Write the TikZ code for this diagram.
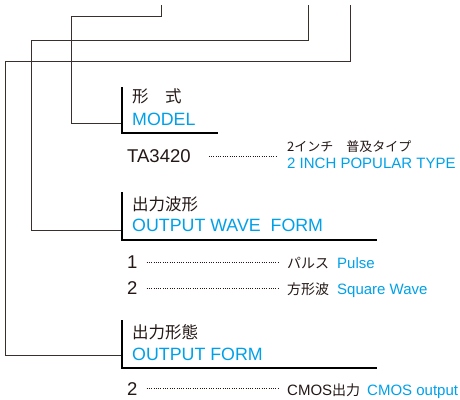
\documentclass[tikz,border=0pt]{standalone}
\usepackage{fontspec}
\setmainfont{Liberation Sans}
\newfontfamily\jpfont{Noto Sans CJK JP}
\usepackage{tikz}
\definecolor{specblue}{RGB}{0,160,233}
\definecolor{ink}{RGB}{35,24,21}
\newcommand\headsize{\fontsize{17.8}{20}\selectfont}
\newcommand\headjp{\jpfont\fontsize{16.5}{20}\selectfont}
\newcommand\numsize{\fontsize{18.5}{20}\selectfont}
\newcommand\itemsize{\fontsize{15}{18}\selectfont}
\newcommand\itemjp{\jpfont\fontsize{14}{18}\selectfont}
\newcommand\smalljp{\jpfont\fontsize{13}{16}\selectfont}

\begin{document}
\begin{tikzpicture}[x=1pt,y=-1pt,
    txt/.style={anchor=base west,inner sep=0pt,text=ink},
    entxt/.style={txt,text=specblue},
    bracket/.style={draw=black,line width=2.2pt},
    link/.style={draw=ink!90,line width=0.9pt},
    leader/.style={draw=ink,line width=0.9pt,dash pattern=on 0.9pt off 1.4pt}]
        \useasboundingbox (0,0) rectangle (460,399);
        % model
        \node[txt,font=\headjp] (modeljp) at (132,102.5) {形　式};
        \node[entxt,font=\headsize] (model) at (132,125) {MODEL};
        \coordinate (modeltop) at (122,87);
        \coordinate (modelfoot) at (122,133);
        \coordinate (modelend) at (218,133);
        \draw[bracket] (modeltop) -- (modelfoot) -- (modelend);
        \node[txt,font=\numsize] (ta) at (127,162.5) {TA3420};
        \node[txt,font=\smalljp] (tajp) at (287,151) {2インチ　普及タイプ};
        \node[entxt,font=\itemsize] (taen) at (287,168) {2 INCH POPULAR TYPE};
        \draw[leader] ([xshift=18pt]ta.east) -- ([xshift=-10pt]ta.east -| tajp.west);
        % output wave form
        \node[txt,font=\headjp] (wavejp) at (132,210) {出力波形};
        \node[entxt,font=\headsize] (wave) at (132,231.5) {OUTPUT WAVE\ \ FORM};
        \coordinate (wavetop) at (122,192);
        \coordinate (wavefoot) at (122,240);
        \coordinate (waveend) at (377,240);
        \draw[bracket] (wavetop) -- (wavefoot) -- (waveend);
        \node[txt,font=\numsize] (one) at (127,268.5) {1};
        \node[txt,font=\itemjp] (pulsejp) at (287,268) {パルス};
        \node[entxt,font=\itemsize] (pulse) at (337,268) {Pulse};
        \draw[leader] ([xshift=9pt]one.east) -- ([xshift=-7pt]one.east -| pulsejp.west);
        \node[txt,font=\numsize] (two) at (127,294.5) {2};
        \node[txt,font=\itemjp] (squarejp) at (287,294) {方形波};
        \node[entxt,font=\itemsize] (square) at (337,294) {Square Wave};
        \draw[leader] ([xshift=9pt]two.east) -- ([xshift=-7pt]two.east -| squarejp.west);
        % output form
        \node[txt,font=\headjp] (formjp) at (132,338.5) {出力形態};
        \node[entxt,font=\headsize] (form) at (132,360) {OUTPUT FORM};
        \coordinate (formtop) at (122,320);
        \coordinate (formfoot) at (122,368);
        \coordinate (formend) at (377,368);
        \draw[bracket] (formtop) -- (formfoot) -- (formend);
        \node[txt,font=\numsize] (cmosno) at (127,395) {2};
        \node[txt,font=\itemsize] (cmosjp) at (287,395) {CMOS{\itemjp 出力}};
        \node[entxt,font=\itemsize] (cmos) at (367,395) {CMOS output};
        \draw[leader] ([xshift=9pt]cmosno.east) -- ([xshift=-7pt]cmosno.east -| cmosjp.west);
        % links from the top
        \coordinate (pinmodel) at (161,5);
        \coordinate (pinwave) at (308,5);
        \coordinate (pinform) at (350,5);
        \coordinate (joinmodel) at (120.9,123);
        \coordinate (joinwave) at (120.9,230);
        \coordinate (joinform) at (120.9,355);
        \draw[link] (pinmodel) |- (71,16) |- (joinmodel);
        \draw[link] (pinwave) |- (31,40) |- (joinwave);
        \draw[link] (pinform) |- (5,61) |- (joinform);
      \end{tikzpicture}
\end{document}
